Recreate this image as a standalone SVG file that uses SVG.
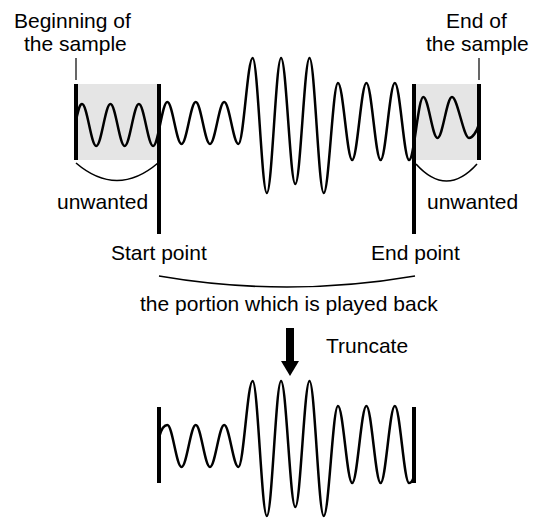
<svg xmlns="http://www.w3.org/2000/svg" width="539" height="519" viewBox="0 0 539 519">
<style>
text{font-family:"Liberation Sans",Arial,Helvetica,sans-serif;font-size:21px;fill:#000}
.wave{fill:none;stroke:#000;stroke-width:2.5;stroke-linejoin:round;stroke-linecap:round}
.bold{stroke:#000;stroke-width:4;fill:none}
.thin{stroke:#000;stroke-width:1.2;fill:none}
.brace{stroke:#000;stroke-width:1.6;fill:none}
.shade{fill:#e5e5e5}
</style>
<g id="shaded-regions">
<rect class="shade" x="76" y="84" width="83" height="76"/>
<rect class="shade" x="414" y="84" width="65" height="76"/>
</g>
<g id="original-wave">
<path class="wave" d="M76,120 C78.5,110 79.5,104 82,104 C87.17,104 91.05,146 96.22,146 C101.39,146 105.27,104 110.44,104 C115.61,104 119.49,146 124.66,146 C129.83,146 133.71,104 138.88,104 C144.05,104 147.93,146 153.1,146 C158.27,146 162.15,102 167.32,102 C172.49,102 176.37,144 181.54,144 C186.71,144 190.59,102 195.76,102 C200.93,102 204.81,144 209.98,144 C215.15,144 219.03,102 224.2,102 C229.37,102 233.25,144 238.42,144 C243.59,144 247.47,58 252.64,58 C257.81,58 261.69,193 266.86,193 C272.03,193 275.91,58 281.08,58 C286.25,58 290.13,184 295.3,184 C300.47,184 304.35,58 309.52,58 C314.69,58 318.57,193 323.74,193 C328.91,193 332.79,83 337.96,83 C343.13,83 347.01,160 352.18,160 C357.35,160 361.23,83 366.4,83 C371.57,83 375.45,160 380.62,160 C385.79,160 389.67,83 394.84,83 C400.01,83 403.89,160 409.06,160 C414.23,160 418.11,97 423.28,97 C428.45,97 432.33,138 437.5,138 C442.67,138 446.8,97 452,97 C457.5,97 463.5,138 469,138 C472.5,138 476.5,132 479,124"/>
</g>
<g id="sample-begin">
<line class="thin" x1="76" y1="58" x2="76" y2="80"/>
<line class="bold" x1="76" y1="84" x2="76" y2="160"/>
<text x="14" y="28">Beginning of</text>
<text x="24" y="51">the sample</text>
</g>
<g id="sample-end">
<line class="thin" x1="479" y1="58" x2="479" y2="80"/>
<line class="bold" x1="479" y1="84" x2="479" y2="160"/>
<text x="446" y="28">End of</text>
<text x="426" y="51">the sample</text>
</g>
<g id="start-point">
<line class="bold" x1="159" y1="84" x2="159" y2="234"/>
<text x="111" y="260">Start point</text>
</g>
<g id="end-point">
<line class="bold" x1="414" y1="84" x2="414" y2="234"/>
<text x="371" y="260">End point</text>
</g>
<g id="unwanted-left">
<path class="brace" d="M76,163 Q117,198 158,163"/>
<text x="57" y="209">unwanted</text>
</g>
<g id="unwanted-right">
<path class="brace" d="M416,164 Q446.5,198 477,164"/>
<text x="427" y="209">unwanted</text>
</g>
<g id="played-portion">
<path class="brace" d="M159,276 Q287,298 415,276"/>
<text x="140" y="311">the portion which is played back</text>
</g>
<g id="truncate-arrow">
<rect x="286" y="328" width="8" height="34" fill="#000"/>
<polygon points="281,361 299,361 290,376" fill="#000"/>
<text x="326" y="353">Truncate</text>
</g>
<g id="truncated-wave">
<line class="bold" x1="159" y1="407" x2="159" y2="483"/>
<line class="bold" x1="414" y1="407" x2="414" y2="483"/>
<path class="wave" d="M159.5,436 C162,427 164.5,425 167.32,425 C172.49,425 176.37,467 181.54,467 C186.71,467 190.59,425 195.76,425 C200.93,425 204.81,467 209.98,467 C215.15,467 219.03,425 224.2,425 C229.37,425 233.25,467 238.42,467 C243.59,467 247.47,381 252.64,381 C257.81,381 261.69,516 266.86,516 C272.03,516 275.91,381 281.08,381 C286.25,381 290.13,507 295.3,507 C300.47,507 304.35,381 309.52,381 C314.69,381 318.57,516 323.74,516 C328.91,516 332.79,406 337.96,406 C343.13,406 347.01,483 352.18,483 C357.35,483 361.23,406 366.4,406 C371.57,406 375.45,483 380.62,483 C385.79,483 389.67,406 394.84,406 C400.01,406 403.89,483 409.06,483 C411.5,483 413,480 414,476"/>
</g>
</svg>
